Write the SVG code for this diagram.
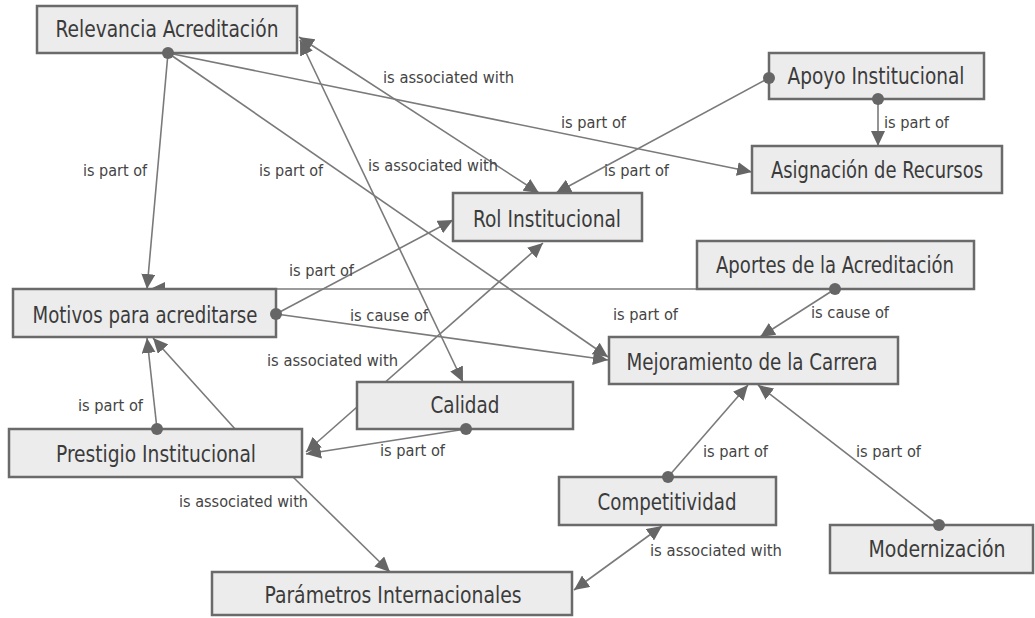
<svg xmlns="http://www.w3.org/2000/svg" width="1035" height="618" viewBox="0 0 1035 618">
  <style>
    .box { fill: #ececec; stroke: #6a6a6a; stroke-width: 2.5; }
    .nt { font-family: "DejaVu Sans Condensed", "DejaVu Sans", "Liberation Sans Narrow", sans-serif; font-stretch: condensed; font-size: 23px; fill: #3b3b3b; text-anchor: middle; }
    .ln { stroke: #7a7a7a; stroke-width: 1.6; fill: none; }
    .lt { font-family: "DejaVu Sans Condensed", "DejaVu Sans", sans-serif; font-stretch: condensed; font-size: 16px; fill: #444; }
    .dot { fill: #666; }
  </style>
  <defs>
    <marker id="arr" markerUnits="userSpaceOnUse" markerWidth="16" markerHeight="14" refX="15" refY="7" orient="auto-start-reverse">
      <path d="M0,0 L15,7 L0,14 Z" fill="#666"/>
    </marker>
  </defs>
  <rect width="1035" height="618" fill="#ffffff"/>

  <g id="connectors">
    <!-- Relevancia Acreditación -->
    <line class="ln" x1="168" y1="53" x2="147" y2="289" marker-end="url(#arr)"/>
    <line class="ln" x1="168" y1="53" x2="608" y2="357" marker-end="url(#arr)"/>
    <line class="ln" x1="168" y1="53" x2="752" y2="172" marker-end="url(#arr)"/>
    <line class="ln" x1="299" y1="37" x2="539" y2="193" marker-start="url(#arr)" marker-end="url(#arr)"/>
    <line class="ln" x1="300" y1="40" x2="463" y2="382" marker-start="url(#arr)" marker-end="url(#arr)"/>
    <!-- Apoyo Institucional -->
    <line class="ln" x1="769" y1="78" x2="556" y2="193" marker-end="url(#arr)"/>
    <line class="ln" x1="878" y1="99" x2="878" y2="146" marker-end="url(#arr)"/>
    <!-- Motivos para acreditarse -->
    <line class="ln" x1="276" y1="314" x2="453" y2="220" marker-end="url(#arr)"/>
    <line class="ln" x1="276" y1="314" x2="608" y2="360" marker-end="url(#arr)"/>
    <!-- Aportes de la Acreditación -->
    <line class="ln" x1="760" y1="289" x2="150" y2="289" marker-end="url(#arr)"/>
    <line class="ln" x1="835" y1="289" x2="760" y2="337" marker-end="url(#arr)"/>
    <!-- Prestigio Institucional -->
    <line class="ln" x1="306" y1="452" x2="543" y2="243" marker-start="url(#arr)" marker-end="url(#arr)"/>
    <line class="ln" x1="157" y1="429" x2="147" y2="338" marker-end="url(#arr)"/>
    <line class="ln" x1="245" y1="440" x2="153" y2="338" marker-end="url(#arr)"/>
    <line class="ln" x1="293" y1="477" x2="390" y2="572" marker-end="url(#arr)"/>
    <!-- Calidad -->
    <line class="ln" x1="466" y1="429" x2="306" y2="454" marker-end="url(#arr)"/>
    <!-- Competitividad / Modernización -->
    <line class="ln" x1="668" y1="477" x2="748" y2="385" marker-end="url(#arr)"/>
    <line class="ln" x1="939" y1="525" x2="758" y2="385" marker-end="url(#arr)"/>
    <line class="ln" x1="662" y1="526" x2="574" y2="590" marker-start="url(#arr)" marker-end="url(#arr)"/>

    <!-- link labels -->
    <text class="lt" x="383" y="83" textLength="131" lengthAdjust="spacingAndGlyphs">is associated with</text>
    <text class="lt" x="561" y="128" textLength="65" lengthAdjust="spacingAndGlyphs">is part of</text>
    <text class="lt" x="368" y="171" textLength="130" lengthAdjust="spacingAndGlyphs">is associated with</text>
    <text class="lt" x="604" y="176" textLength="65" lengthAdjust="spacingAndGlyphs">is part of</text>
    <text class="lt" x="83" y="176" textLength="64" lengthAdjust="spacingAndGlyphs">is part of</text>
    <text class="lt" x="259" y="176" textLength="64" lengthAdjust="spacingAndGlyphs">is part of</text>
    <text class="lt" x="884" y="128" textLength="65" lengthAdjust="spacingAndGlyphs">is part of</text>
    <text class="lt" x="289" y="276" textLength="65" lengthAdjust="spacingAndGlyphs">is part of</text>
    <text class="lt" x="350" y="321" textLength="78" lengthAdjust="spacingAndGlyphs">is cause of</text>
    <text class="lt" x="613" y="320" textLength="65" lengthAdjust="spacingAndGlyphs">is part of</text>
    <text class="lt" x="811" y="318" textLength="78" lengthAdjust="spacingAndGlyphs">is cause of</text>
    <text class="lt" x="267" y="366" textLength="131" lengthAdjust="spacingAndGlyphs">is associated with</text>
    <text class="lt" x="78" y="411" textLength="65" lengthAdjust="spacingAndGlyphs">is part of</text>
    <text class="lt" x="380" y="456" textLength="65" lengthAdjust="spacingAndGlyphs">is part of</text>
    <text class="lt" x="179" y="507" textLength="129" lengthAdjust="spacingAndGlyphs">is associated with</text>
    <text class="lt" x="703" y="457" textLength="65" lengthAdjust="spacingAndGlyphs">is part of</text>
    <text class="lt" x="856" y="457" textLength="65" lengthAdjust="spacingAndGlyphs">is part of</text>
    <text class="lt" x="650" y="556" textLength="132" lengthAdjust="spacingAndGlyphs">is associated with</text>
  </g>

  <g id="relevancia">
    <rect class="box" x="37" y="6" width="260" height="47"/>
    <text class="nt" x="167" y="37" textLength="223" lengthAdjust="spacingAndGlyphs">Relevancia Acreditación</text>
    <circle class="dot" cx="168" cy="53" r="6"/>
  </g>
  <g id="apoyo">
    <rect class="box" x="769" y="53" width="215" height="46"/>
    <text class="nt" x="876" y="84" textLength="177" lengthAdjust="spacingAndGlyphs">Apoyo Institucional</text>
    <circle class="dot" cx="769" cy="78" r="6"/>
    <circle class="dot" cx="878" cy="99" r="6"/>
  </g>
  <g id="asignacion">
    <rect class="box" x="752" y="146" width="250" height="47"/>
    <text class="nt" x="877" y="178" textLength="212" lengthAdjust="spacingAndGlyphs">Asignación de Recursos</text>
  </g>
  <g id="rol">
    <rect class="box" x="453" y="193" width="189" height="48"/>
    <text class="nt" x="547" y="227" textLength="148" lengthAdjust="spacingAndGlyphs">Rol Institucional</text>
  </g>
  <g id="aportes">
    <rect class="box" x="697" y="241" width="277" height="48"/>
    <text class="nt" x="835" y="273" textLength="238" lengthAdjust="spacingAndGlyphs">Aportes de la Acreditación</text>
    <circle class="dot" cx="835" cy="289" r="6"/>
  </g>
  <g id="motivos">
    <rect class="box" x="13" y="289" width="263" height="48"/>
    <text class="nt" x="145" y="323" textLength="225" lengthAdjust="spacingAndGlyphs">Motivos para acreditarse</text>
    <circle class="dot" cx="276" cy="314" r="6"/>
  </g>
  <g id="mejoramiento">
    <rect class="box" x="609" y="337" width="289" height="47"/>
    <text class="nt" x="752" y="370" textLength="251" lengthAdjust="spacingAndGlyphs">Mejoramiento de la Carrera</text>
  </g>
  <g id="calidad">
    <rect class="box" x="357" y="382" width="216" height="47"/>
    <text class="nt" x="465" y="413" textLength="69" lengthAdjust="spacingAndGlyphs">Calidad</text>
    <circle class="dot" cx="466" cy="429" r="6"/>
  </g>
  <g id="prestigio">
    <rect class="box" x="9" y="429" width="293" height="48"/>
    <text class="nt" x="156" y="462" textLength="200" lengthAdjust="spacingAndGlyphs">Prestigio Institucional</text>
    <circle class="dot" cx="157" cy="429" r="6"/>
  </g>
  <g id="competitividad">
    <rect class="box" x="559" y="477" width="217" height="48"/>
    <text class="nt" x="667" y="510" textLength="139" lengthAdjust="spacingAndGlyphs">Competitividad</text>
    <circle class="dot" cx="668" cy="477" r="6"/>
  </g>
  <g id="modernizacion">
    <rect class="box" x="830" y="525" width="203" height="48"/>
    <text class="nt" x="937" y="557" textLength="137" lengthAdjust="spacingAndGlyphs">Modernización</text>
    <circle class="dot" cx="939" cy="525" r="6"/>
  </g>
  <g id="parametros">
    <rect class="box" x="212" y="572" width="360" height="43"/>
    <text class="nt" x="393" y="603" textLength="257" lengthAdjust="spacingAndGlyphs">Parámetros Internacionales</text>
  </g>
</svg>
